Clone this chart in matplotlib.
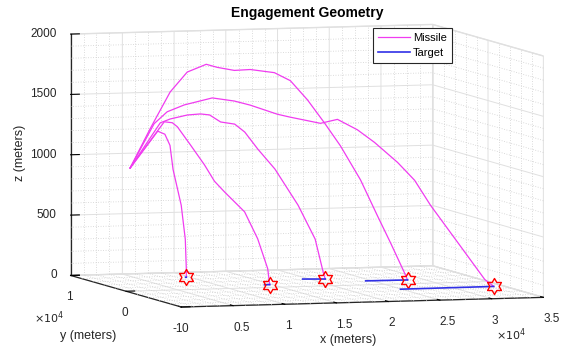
import numpy as np
import matplotlib.pyplot as plt
from matplotlib.path import Path
from matplotlib.transforms import offset_copy

plt.rcParams['font.family'] = ['Liberation Sans', 'DejaVu Sans']

# launch point (m)
launch = [400, 0, 1020]

# missile waypoints after launch (x, y, z in meters)
m1_x = [2422, 4443, 6162, 8083, 9192, 10913, 12530, 14957, 16573, 18292, 20011, 21627, 23648, 25368, 26681, 28092, 28400]
m1_y = [159, 318, 453, 604, 691, 826, 953, 1144, 1271, 1406, 1541, 1668, 1827, 1962, 2065, 2176, 2200]
m1_z = [1339, 1637, 1796, 1854, 1825, 1794, 1796, 1762, 1690, 1526, 1329, 1133, 845, 540, 313, 59, 0]

m2_x = [2621, 3824, 5400, 7990, 10026, 11508, 14008, 15210, 17986, 19559, 21410, 22986, 25113, 26689, 28167, 30667, 33167, 34000]
m2_y = [-192, -296, -431, -655, -831, -959, -1174, -1278, -1518, -1654, -1813, -1949, -2133, -2269, -2397, -2612, -2828, -2900]
m2_z = [1385, 1482, 1537, 1592, 1564, 1528, 1450, 1424, 1370, 1401, 1312, 1206, 1038, 888, 678, 369, 59, 0]

m3_x = [3647, 4730, 6570, 7977, 8951, 10142, 11658, 12740, 14147, 15988, 18477, 20318, 21183, 21400]
m3_y = [619, 825, 1175, 1443, 1629, 1856, 2144, 2351, 2619, 2969, 3443, 3794, 3959, 4000]
m3_z = [1379, 1406, 1430, 1432, 1419, 1355, 1330, 1259, 1111, 937, 626, 336, 58, 0]

m4_x = [3910, 4737, 5252, 6595, 8040, 9072, 10101, 12169, 13512, 14544, 14750]
m4_y = [391, 484, 541, 691, 852, 967, 1082, 1312, 1462, 1577, 1600]
m4_z = [1390, 1379, 1344, 1189, 1018, 878, 786, 613, 385, 133, 0]

m5_x = [4951, 6131, 6974, 7479, 8827, 9501, 9670, 9670]
m5_y = [3520, 4432, 5084, 5475, 6518, 7039, 7170, 7170]
m5_z = [1269, 1229, 1126, 921, 607, 316, 66, 0]

# target tracks on the ground (start, end)
t_x = [[9600, 9670], [14250, 14750], [19400, 21400], [24400, 28400], [24900, 34000]]
t_y = [[7170, 7170], [1600, 1600], [4330, 4000], [2300, 2200], [-3060, -2900]]

missiles = [(m1_x, m1_y, m1_z), (m2_x, m2_y, m2_z), (m3_x, m3_y, m3_z),
            (m4_x, m4_y, m4_z), (m5_x, m5_y, m5_z)]

x_ticks = np.arange(0, 35001, 5000)
x_labels = ['0', '0.5', '1', '1.5', '2', '2.5', '3', '3.5']
y_ticks = [-10000, 0, 10000]
y_labels = ['-1', '0', '1']
z_ticks = np.arange(0, 2001, 500)
z_labels = ['0', '500', '1000', '1500', '2000']

# six point star marker
ang = np.pi / 2 + np.arange(12) * np.pi / 6
rad = np.where(np.arange(12) % 2 == 0, 1.0, 0.58)
verts = np.column_stack([rad * np.cos(ang), rad * np.sin(ang)])
verts = np.vstack([verts, verts[0]])
hexagram = Path(verts, closed=True)

fig = plt.figure(figsize=(5.65, 3.5), dpi=100)
ax = fig.add_axes([0.035, 0.013, 1, 1], projection='3d', proj_type='ortho')
ax.view_init(elev=5, azim=-107)
ax.set_box_aspect((1, 1, 0.64), zoom=1.63)

grid_c = '#e0e0e0'
minor_c = '#cfcfcf'
txt_c = '#262626'
for a in (ax.xaxis, ax.yaxis, ax.zaxis):
    a.set_pane_color((1, 1, 1, 1))
    a.pane.set_edgecolor(grid_c)
    a._axinfo['grid']['color'] = grid_c
    a._axinfo['grid']['linewidth'] = 0.7
    a._axinfo['tick']['inward_factor'] = 0.0
    a._axinfo['tick']['outward_factor'] = 0.3
    a._axinfo['tick']['color'] = txt_c
    a._axinfo['axisline']['color'] = txt_c
    a.line.set_color(txt_c)
    a.line.set_linewidth(0.9)

# minor dotted grid on the three walls
xm = [v for v in np.arange(0, 35001, 1250) if v % 5000]
ym = [v for v in np.arange(-10000, 10001, 2000) if v % 10000]
zm = [v for v in np.arange(0, 2001, 100) if v % 500]
mk = dict(color=minor_c, lw=0.6, ls=(0, (1, 2)), clip_on=False)
for v in xm:
    ax.plot([v, v], [10000, 10000], [0, 2000], **mk)
    ax.plot([v, v], [-10000, 10000], [0, 0], **mk)
for v in ym:
    ax.plot([35000, 35000], [v, v], [0, 2000], **mk)
    ax.plot([0, 35000], [v, v], [0, 0], **mk)
for v in zm:
    ax.plot([0, 35000], [10000, 10000], [v, v], **mk)
    ax.plot([35000, 35000], [-10000, 10000], [v, v], **mk)

for i, (mx, my, mz) in enumerate(missiles):
    ax.plot([launch[0]] + mx, [launch[1]] + my, [launch[2]] + mz, color='#f03cf0', lw=0.9,
            clip_on=False, label='Missile' if i == 0 else None)
for i in range(len(t_x)):
    ax.plot(t_x[i], t_y[i], [0, 0], color='#3030e6', lw=1.2, clip_on=False,
            label='Target' if i == 0 else None)
    ax.plot([t_x[i][1]], [t_y[i][1]], [0], marker=hexagram, ms=11.5, mfc='none', mec='red', mew=1,
            ls='none', clip_on=False)

ax.set_xlim(0, 35000)
ax.set_ylim(-10000, 10000)
ax.set_zlim(0, 2000)
ax.set_xticks(x_ticks)
ax.set_xticklabels([])
ax.set_yticks(y_ticks)
ax.set_yticklabels([])
ax.set_zticks(z_ticks)
ax.set_zticklabels([])

# tick labels placed at the tick positions, shifted a few pixels
tx = offset_copy(ax.transData, fig=fig, x=0, y=-22, units='dots')
ty = offset_copy(ax.transData, fig=fig, x=2, y=-22, units='dots')
tz = offset_copy(ax.transData, fig=fig, x=-14, y=0, units='dots')
for v, s in zip(x_ticks, x_labels):
    ax.text(v, -10000, 0, s, transform=tx, ha='left', va='center', fontsize=8.5, color=txt_c)
for v, s in zip(y_ticks, y_labels):
    ax.text(0, v, 0, s, transform=ty, ha='right', va='center', fontsize=8.5, color=txt_c)
for v, s in zip(z_ticks, z_labels):
    ax.text(0, 10000, v, s, transform=tz, ha='right', va='center', fontsize=8.5, color=txt_c)

fig.text(0.544, 0.963, 'Engagement Geometry', fontsize=10, fontweight='bold', ha='center', va='center')
fig.text(0.616, 0.029, 'x (meters)', fontsize=9, ha='center', va='center', color=txt_c)
fig.text(0.156, 0.04, 'y (meters)', fontsize=9, ha='center', va='center', color=txt_c)
fig.text(0.036, 0.563, 'z (meters)', fontsize=9, ha='center', va='center', rotation=90, color=txt_c)
fig.text(0.905, 0.045, r'$\times10^4$', fontsize=8, ha='center', va='center', color=txt_c)
fig.text(0.087, 0.091, r'$\times10^4$', fontsize=8, ha='center', va='center', color=txt_c)

leg = ax.legend(loc='upper right', bbox_to_anchor=(0.8, 0.92), bbox_transform=fig.transFigure,
                fontsize=8, fancybox=False, edgecolor=txt_c, framealpha=1, borderaxespad=0,
                handlelength=2.9, handletextpad=0.3, borderpad=0.45, labelspacing=0.45)
leg.get_frame().set_linewidth(0.8)

fig.savefig('out.png', dpi=100)
